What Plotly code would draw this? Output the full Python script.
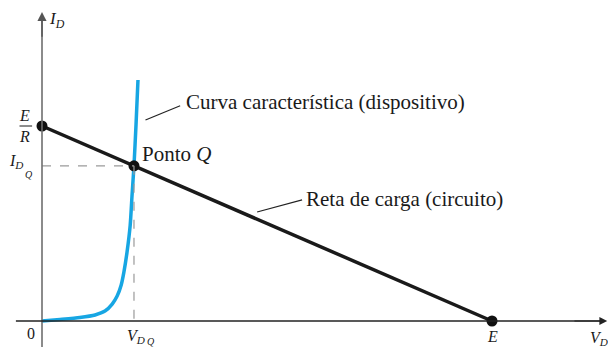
import plotly.graph_objects as go

# Circuit values (arbitrary units: volts, mA)
E = 10.0
R = 1.0
V_Q = 2.044
I_Q = (E - V_Q) / R

# Diode characteristic
diode_v = [0.0, 0.40, 0.84, 1.18, 1.40, 1.56, 1.67, 1.76, 1.82, 1.89, 1.96, 2.00, 2.044, 2.09, 2.133]
diode_i = [0.0, 0.08, 0.18, 0.31, 0.51, 0.87, 1.28, 1.85, 2.51, 3.54, 4.92, 6.41, 7.956, 10.1, 12.36]

# Load line end points
load_v = [0.0, V_Q, E]
load_i = [E / R, I_Q, 0.0]

serif = "Liberation Serif, 'Times New Roman', Times, serif"
blue = "#17a6e3"

fig = go.Figure()

# dashed guides to the Q point
fig.add_shape(type="line", x0=0, y0=I_Q, x1=V_Q, y1=I_Q,
              line=dict(color="#9a9a9a", width=1.2, dash="dash"))
fig.add_shape(type="line", x0=V_Q, y0=I_Q, x1=V_Q, y1=0,
              line=dict(color="#9a9a9a", width=1.2, dash="dash"))

# y axis (gray) and x axis (black) with arrows
fig.add_shape(type="line", x0=0, y0=-1.4, x1=0, y1=15.6,
              line=dict(color="#6e6e6e", width=1.6))
fig.add_shape(type="line", x0=-0.58, y0=0, x1=12.4, y1=0,
              line=dict(color="#222222", width=1.3))
fig.add_annotation(x=0, y=15.85, ax=0, ay=14.5, axref="x", ayref="y",
                   showarrow=True, arrowhead=2, arrowsize=1.3, arrowwidth=1.4,
                   arrowcolor="#555555", text="")
fig.add_annotation(x=12.56, y=0, ax=11.8, ay=0, axref="x", ayref="y",
                   showarrow=True, arrowhead=2, arrowsize=1.3, arrowwidth=1.2,
                   arrowcolor="#222222", text="")

# diode curve
fig.add_trace(go.Scatter(x=diode_v, y=diode_i, mode="lines",
                         line=dict(color=blue, width=3.5, shape="spline", smoothing=0.6),
                         hoverinfo="skip"))

# load line
fig.add_trace(go.Scatter(x=[load_v[0], load_v[-1]], y=[load_i[0], load_i[-1]], mode="lines",
                         line=dict(color="#1a1a1a", width=3.5), hoverinfo="skip"))
fig.add_trace(go.Scatter(x=load_v, y=load_i, mode="markers",
                         marker=dict(color="#111111", size=11), hoverinfo="skip"))

# leader lines
fig.add_shape(type="line", x0=2.30, y0=10.31, x1=3.07, y1=11.04,
              line=dict(color="#222222", width=1.2))
fig.add_shape(type="line", x0=4.78, y0=5.59, x1=5.78, y1=6.21,
              line=dict(color="#222222", width=1.2))

txt = dict(family=serif, size=21, color="#1a1a1a")
lab = dict(family=serif, size=16, color="#1a1a1a")
small = dict(family=serif, size=10, color="#1a1a1a")


def note(x, y, text, font, xanchor="center"):
    fig.add_annotation(x=x, y=y, text=text, showarrow=False, font=font,
                       xanchor=xanchor, yanchor="middle")


note(3.15, 11.25, "Curva característica (dispositivo)", txt, "left")
note(5.83, 6.24, "Reta de carga (circuito)", txt, "left")
note(2.17, 8.55, "Ponto <i>Q</i>", txt, "left")

# axis labels
note(0.12, 15.45, "<i>I</i><sub><i>D</i></sub>", dict(family=serif, size=17, color="#1a1a1a"), "left")
note(12.62, -0.88, "<i>V</i><sub><i>D</i></sub>", lab, "right")
note(E, -0.82, "<i>E</i>", lab)
note(-0.25, -0.62, "0", lab)
note(2.08, -0.82, "<i>V</i><sub><i>D</i></sub>", lab)
note(2.42, -1.05, "<i>Q</i>", small)
note(-0.58, I_Q + 0.2, "<i>I</i><sub><i>D</i></sub>", lab)
note(-0.3, I_Q - 0.42, "<i>Q</i>", small)
note(-0.38, E / R + 0.55, "<i>E</i>", lab)
note(-0.38, E / R - 0.55, "<i>R</i>", lab)
fig.add_shape(type="line", x0=-0.5, y0=E / R, x1=-0.22, y1=E / R,
              line=dict(color="#1a1a1a", width=1))

# the page body adds an 8px margin, so the figure is 8px smaller each way
fig.update_layout(
    width=608, height=339,
    margin=dict(l=0, r=0, t=0, b=0),
    paper_bgcolor="white", plot_bgcolor="white",
    showlegend=False,
    xaxis=dict(range=[-34 / 45, 574 / 45], visible=False, fixedrange=True),
    yaxis=dict(range=[-26 / 19.5, 313 / 19.5], visible=False, fixedrange=True),
)

fig.write_html("out.html")
